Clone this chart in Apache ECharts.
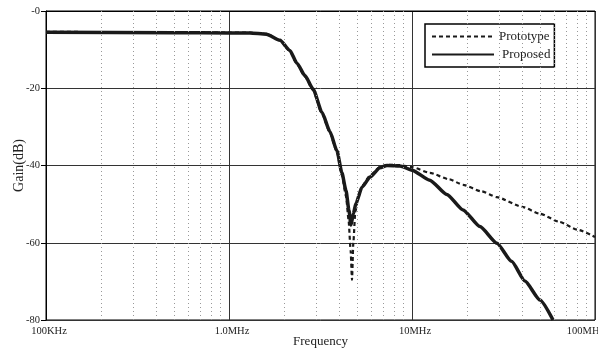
<!DOCTYPE html>
<html>
<head>
<meta charset="utf-8">
<script src="https://cdn.jsdelivr.net/npm/echarts@6/dist/echarts.min.js"></script>
<style>html,body{margin:0;padding:0;background:#fff;}#c{width:598px;height:349px;}</style>
</head>
<body>
<div id="c"></div>
<script>
// Tick positions / labels
const decadeTicks = [1e5, 1e6, 1e7, 1e8];
const decadeLabels = ['100KHz', '1.0MHz', '10MHz', '100MHz'];
const minorTicks = [2e5,3e5,4e5,5e5,6e5,7e5,8e5,9e5,
                    2e6,3e6,4e6,5e6,6e6,7e6,8e6,9e6,
                    2e7,3e7,4e7,5e7,6e7,7e7,8e7,9e7];
const yTicks = [0, -20, -40, -60, -80];
const yLabels = ['-0', '-20', '-40', '-60', '-80'];

// Prototype (dashed)
const protoFreq = [1e5, 5e5, 1e6, 1.3e6, 1.6e6, 1.9e6, 2.15e6, 2.35e6, 2.6e6, 2.88e6, 3.22e6, 3.56e6, 3.89e6, 4.14e6, 4.36e6, 4.5e6, 4.62e6, 4.7e6, 4.78e6, 4.9e6, 5.1e6, 5.33e6, 5.9e6, 6.68e6, 7.3e6, 8.6e6, 1e7, 1.25e7, 1.6e7, 1.9e7, 2.4e7, 2.91e7, 4e7, 5e7, 6.4e7, 8e7, 1e8];
const protoGain = [-5.4, -5.5, -5.6, -5.6, -5.9, -7.6, -10.3, -13.7, -17.0, -20.5, -26.6, -31.5, -36.5, -42.5, -48.0, -54.0, -62.0, -69.6, -60.0, -52.0, -48.0, -45.3, -42.6, -40.4, -39.8, -39.9, -40.4, -41.9, -43.6, -45.0, -46.7, -48.2, -50.7, -52.5, -54.6, -56.6, -58.5];

// Proposed (solid)
const propFreq = [1e5, 5e5, 1e6, 1.3e6, 1.6e6, 1.9e6, 2.15e6, 2.35e6, 2.6e6, 2.88e6, 3.22e6, 3.56e6, 3.89e6, 4.14e6, 4.36e6, 4.52e6, 4.64e6, 4.78e6, 4.94e6, 5.33e6, 5.9e6, 6.68e6, 7.3e6, 8.6e6, 1e7, 1.25e7, 1.55e7, 1.9e7, 2.35e7, 2.91e7, 3.5e7, 4.14e7, 5e7, 5.9e7];
const propGain = [-5.5, -5.6, -5.7, -5.7, -6.0, -7.6, -10.2, -13.5, -16.7, -20.2, -26.2, -31.2, -36.2, -41.9, -46.5, -51.5, -55.4, -52.5, -49.8, -45.6, -43.0, -40.6, -40.0, -40.1, -41.2, -43.8, -47.5, -51.5, -55.8, -60.1, -64.8, -69.9, -74.8, -80.0];

const serif = '"Liberation Serif", "DejaVu Serif", serif';
const zip = (a, b) => a.map((v, i) => [v, b[i]]);

const chart = echarts.init(document.getElementById('c'), null, {renderer: 'canvas'});
chart.setOption({
  animation: false,
  backgroundColor: '#fff',
  textStyle: {fontFamily: serif},
  grid: {left: 46, right: 3, top: 11, bottom: 29, outerBoundsMode: 'none', containLabel: false,
         show: true, borderColor: '#000', borderWidth: 1},
  legend: {
    orient: 'vertical',
    left: 425, top: 24,
    itemWidth: 62, itemHeight: 10, itemGap: 5,
    padding: [6, 4, 6, 6],
    borderColor: '#000', borderWidth: 1.5,
    backgroundColor: '#fff',
    itemStyle: {opacity: 0, color: 'transparent', borderWidth: 0},
    textStyle: {fontFamily: serif, fontSize: 13, color: '#222'},
    data: [
      {name: 'Prototype'},
      {name: 'Proposed', textStyle: {padding: [0, 0, 0, 3]}}
    ]
  },
  xAxis: {
    type: 'log', logBase: 10, min: 1e5, max: 1e8,
    name: 'Frequency', nameLocation: 'middle', nameGap: 15, nameMoveOverlap: false,
    nameTextStyle: {fontFamily: serif, fontSize: 13, color: '#222'},
    axisLine: {lineStyle: {color: '#000', width: 1}},
    axisTick: {show: false},
    axisLabel: {fontFamily: serif, fontSize: 10.5, color: '#222', margin: 6,
      formatter: v => {
        const i = decadeTicks.findIndex(t => Math.abs(t - v) / t < 1e-6);
        if (i < 0) return '';
        return i === decadeLabels.length - 1 ? '{last|' + decadeLabels[i] + '}' : '{n|' + decadeLabels[i] + '}';
      },
      rich: {
        n: {fontFamily: serif, fontSize: 10.5, color: '#222', padding: [0, 0, 0, 6]},
        last: {fontFamily: serif, fontSize: 10.5, color: '#222', padding: [0, 19, 0, 0]}
      }
    },
    splitLine: {show: true, lineStyle: {color: '#333', width: 1}}
  },
  yAxis: {
    type: 'value', min: -80, max: 0, interval: 20,
    name: 'Gain(dB)', nameLocation: 'middle', nameGap: 20, nameMoveOverlap: false,
    nameTextStyle: {fontFamily: serif, fontSize: 14, color: '#222'},
    axisLine: {show: true, lineStyle: {color: '#000', width: 1}},
    axisTick: {show: true, inside: false, length: 5, lineStyle: {color: '#000'}},
    axisLabel: {fontFamily: serif, fontSize: 10.5, color: '#222', margin: 6,
      formatter: v => { const i = yTicks.indexOf(v); return i >= 0 ? yLabels[i] : ''; }},
    splitLine: {show: true, lineStyle: {color: '#333', width: 1}}
  },
  series: [
    {
      name: 'Prototype', type: 'line', showSymbol: false, symbol: 'none',
      smooth: 0.2, smoothMonotone: 'x',
      data: zip(protoFreq, protoGain),
      lineStyle: {color: '#1a1a1a', width: 2.2, type: [4, 3]},
      itemStyle: {color: '#1a1a1a'},
      z: 3,
      markLine: {
        silent: true, symbol: 'none', label: {show: false},
        lineStyle: {color: '#999', width: 1, type: [1, 3]},
        data: minorTicks.map(v => ({xAxis: v}))
      }
    },
    {
      name: 'Proposed', type: 'line', showSymbol: false, symbol: 'none',
      smooth: 0.2, smoothMonotone: 'x',
      data: zip(propFreq, propGain),
      lineStyle: {color: '#1a1a1a', width: 3.5, type: 'solid'},
      itemStyle: {color: '#1a1a1a'},
      z: 4
    }
  ]
});
</script>
</body>
</html>
